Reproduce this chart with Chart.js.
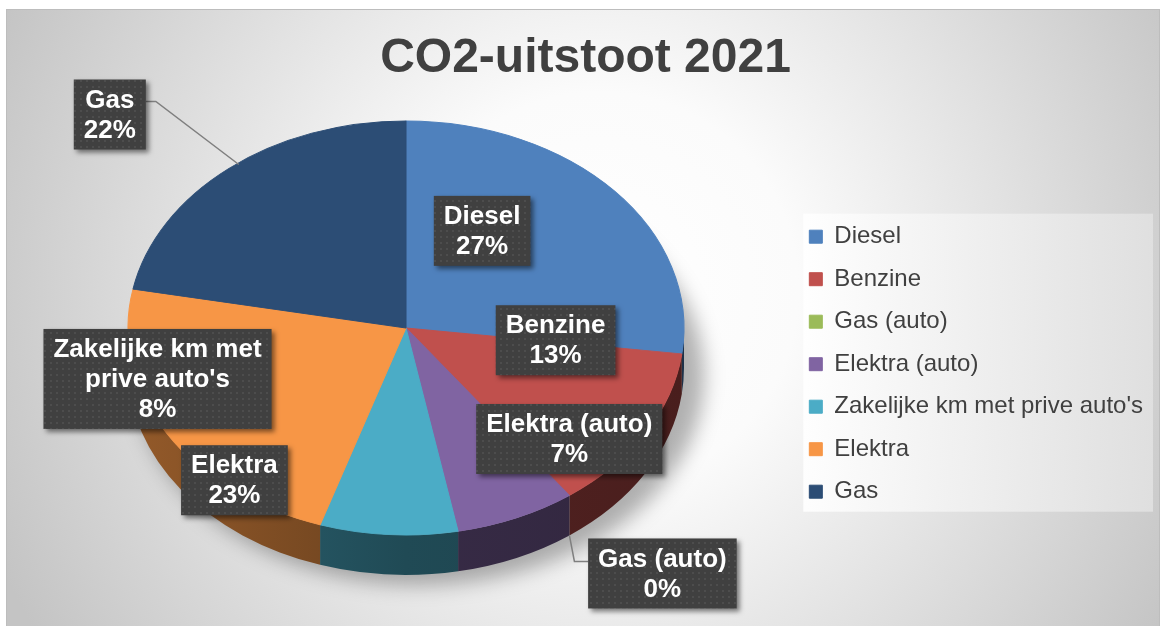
<!DOCTYPE html>
<html>
<head>
<meta charset="utf-8">
<script src="https://cdn.jsdelivr.net/npm/chart.js@4.4.1/dist/chart.umd.min.js"></script>
<style>
  html, body { margin: 0; padding: 0; background: #fff; }
  canvas { display: block; }
</style>
</head>
<body>
<canvas id="chart" width="1165" height="626"></canvas>
<script>
const categories = ['Diesel', 'Benzine', 'Gas (auto)', 'Elektra (auto)', "Zakelijke km met prive auto's", 'Elektra', 'Gas'];
const values = [27, 13, 0, 7, 8, 23, 22];
const colors = ['#4f81bd', '#c0504d', '#9bbb59', '#8064a2', '#4bacc6', '#f79646', '#2c4d75'];
// how the category text wraps inside the data label boxes
const labelLines = [['Diesel'], ['Benzine'], ['Gas (auto)'], ['Elektra (auto)'], ['Zakelijke km met', "prive auto's"], ['Elektra'], ['Gas']];

// tilted view of the pie (fake 3d)
const view = { cx: 406, cy: 328, rx: 278, ry: 207, depth: 40 };

// where the labels sit: fraction of the radius at mid angle + a nudge (Excel labels were moved by hand)
const labelPlace = [
  { f: 0.6, dx: -49, dy: -15 },
  { f: 0.6, dx: 6, dy: -51 },
  { f: 1, dx: 93, dy: 78, leader: 'below' },
  { f: 0.6, dx: 97, dy: -3 },
  { f: 0.6, dx: -238, dy: -73 },
  { f: 0.6, dx: -28, dy: 89 },
  { f: 1, dx: -119, dy: -54, leader: 'left' }
];

const FONT = "'Liberation Sans', Arial, sans-serif";
Chart.defaults.font.family = FONT;

function project(a, f) {
  return { x: view.cx + view.rx * f * Math.cos(a), y: view.cy + view.ry * f * Math.sin(a) };
}

function shade(hex, k) {
  const n = parseInt(hex.slice(1), 16);
  const r = Math.round(((n >> 16) & 255) * k);
  const g = Math.round(((n >> 8) & 255) * k);
  const b = Math.round((n & 255) * k);
  return 'rgb(' + r + ',' + g + ',' + b + ')';
}

// dark dotted fill of the label boxes
const patCanvas = document.createElement('canvas');
patCanvas.width = 6; patCanvas.height = 6;
const pctx = patCanvas.getContext('2d');
pctx.fillStyle = '#404040';
pctx.fillRect(0, 0, 6, 6);
pctx.fillStyle = '#4d4d4d';
pctx.fillRect(2, 2, 2, 2);

const backdrop = {
  id: 'backdrop',
  beforeDraw(chart) {
    const ctx = chart.ctx;
    ctx.save();
    ctx.fillStyle = '#fff';
    ctx.fillRect(0, 0, chart.width, chart.height);
    const g = ctx.createRadialGradient(600, 290, 0, 600, 290, 660);
    g.addColorStop(0, '#ffffff');
    g.addColorStop(0.3, '#fbfbfb');
    g.addColorStop(1, '#c4c4c4');
    ctx.fillStyle = g;
    ctx.fillRect(6, 9, 1154, 620);
    ctx.strokeStyle = '#bdbdbd';
    ctx.lineWidth = 1;
    ctx.strokeRect(6.5, 9.5, 1153, 620);

    // legend panel
    const boxes = chart.legend.legendHitBoxes;
    if (boxes && boxes.length) {
      const l = Math.min(...boxes.map(b => b.left)) - 6;
      const r = Math.max(...boxes.map(b => b.left + b.width)) + 10;
      const t = Math.min(...boxes.map(b => b.top)) - 11;
      const btm = Math.max(...boxes.map(b => b.top + b.height)) + 8;
      const lg = ctx.createLinearGradient(l, 0, r, 0);
      lg.addColorStop(0, 'rgba(255,255,255,0.9)');
      lg.addColorStop(1, 'rgba(225,225,225,0.9)');
      ctx.fillStyle = lg;
      ctx.fillRect(l, t, r - l, btm - t);
    }
    ctx.restore();
  }
};

const tilt = {
  id: 'tilt',
  beforeDatasetsDraw(chart) {
    const ctx = chart.ctx;
    const arcs = chart.getDatasetMeta(0).data;

    // soft shadow under the pie
    ctx.save();
    ctx.filter = 'blur(10px)';
    ctx.fillStyle = 'rgba(0,0,0,0.3)';
    ctx.beginPath();
    ctx.ellipse(view.cx + 14, view.cy + view.depth + 8, view.rx + 6, view.ry + 2, 0, 0, Math.PI * 2);
    ctx.fill();
    ctx.restore();

    // side wall, only the front half shows
    ctx.save();
    arcs.forEach((arc, i) => {
      const s = Math.max(arc.startAngle, 0);
      const e = Math.min(arc.endAngle, Math.PI);
      if (e <= s) return;
      const grad = ctx.createLinearGradient(view.cx - view.rx, 0, view.cx + view.rx, 0);
      grad.addColorStop(0, shade(colors[i], 0.6));
      grad.addColorStop(0.5, shade(colors[i], 0.43));
      grad.addColorStop(1, shade(colors[i], 0.38));
      ctx.fillStyle = grad;
      ctx.beginPath();
      ctx.ellipse(view.cx, view.cy, view.rx, view.ry, 0, s, e);
      ctx.ellipse(view.cx, view.cy + view.depth, view.rx, view.ry, 0, e, s, true);
      ctx.closePath();
      ctx.fill();
    });
    ctx.restore();

    // squash the library's round pie into the tilted ellipse
    const a0 = arcs[0];
    const r = a0.outerRadius;
    ctx.save();
    ctx.translate(view.cx, view.cy);
    ctx.scale(view.rx / r, view.ry / r);
    ctx.translate(-a0.x, -a0.y);
  },
  afterDatasetsDraw(chart) {
    chart.ctx.restore();
  }
};

const excelLabels = {
  id: 'excelLabels',
  afterDraw(chart) {
    const ctx = chart.ctx;
    const arcs = chart.getDatasetMeta(0).data;
    const total = values.reduce((a, b) => a + b, 0);
    const pattern = ctx.createPattern(patCanvas, 'repeat');
    ctx.save();
    ctx.font = 'bold 26px ' + FONT;
    ctx.textAlign = 'center';
    ctx.textBaseline = 'middle';
    arcs.forEach((arc, i) => {
      const p = labelPlace[i];
      const mid = (arc.startAngle + arc.endAngle) / 2;
      const anchor = project(mid, p.f);
      const cx = anchor.x + p.dx;
      const cy = anchor.y + p.dy;
      const lines = labelLines[i].concat(Math.round(values[i] / total * 100) + '%');
      const w = Math.max(...lines.map(t => ctx.measureText(t).width)) + 20;
      const h = lines.length * 30 + 10;
      const left = cx - w / 2;
      const top = cy - h / 2;

      if (p.leader) {
        ctx.save();
        ctx.strokeStyle = '#7f7f7f';
        ctx.lineWidth = 1.5;
        ctx.beginPath();
        if (p.leader === 'below') {
          const sy = anchor.y + view.depth;
          ctx.moveTo(anchor.x, sy);
          ctx.lineTo(anchor.x + 5, cy - 12);
          ctx.lineTo(left, cy - 12);
        } else {
          ctx.moveTo(anchor.x + 10, anchor.y - 4);
          ctx.lineTo(left + w + 10, cy - 13);
          ctx.lineTo(left + w, cy - 13);
        }
        ctx.stroke();
        ctx.restore();
      }

      ctx.save();
      ctx.shadowColor = 'rgba(0,0,0,0.5)';
      ctx.shadowBlur = 5;
      ctx.shadowOffsetX = 3;
      ctx.shadowOffsetY = 3;
      ctx.fillStyle = pattern;
      ctx.fillRect(left, top, w, h);
      ctx.restore();

      ctx.fillStyle = '#ffffff';
      lines.forEach((t, k) => ctx.fillText(t, cx, top + 21 + k * 30));
    });
    ctx.restore();
  }
};

new Chart(document.getElementById('chart'), {
  type: 'pie',
  data: {
    labels: categories,
    datasets: [{
      data: values,
      backgroundColor: colors,
      borderColor: colors,
      borderWidth: 1,
      clip: false
    }]
  },
  options: {
    responsive: false,
    animation: false,
    devicePixelRatio: 1,
    layout: { padding: { left: 18, right: 12, top: 0, bottom: 0 } },
    plugins: {
      title: {
        display: true,
        text: 'CO2-uitstoot 2021',
        color: '#404040',
        font: { size: 48, weight: 'bold' },
        padding: { top: 30, bottom: 10 }
      },
      legend: {
        position: 'right',
        title: {
          display: true,
          text: ' ',
          font: { size: 12 },
          padding: { top: 0, bottom: 88 }
        },
        labels: {
          boxWidth: 13,
          boxHeight: 13,
          padding: 18.5,
          color: '#404040',
          font: { size: 24 }
        }
      },
      tooltip: { enabled: false }
    }
  },
  plugins: [backdrop, tilt, excelLabels]
});
</script>
</body>
</html>
